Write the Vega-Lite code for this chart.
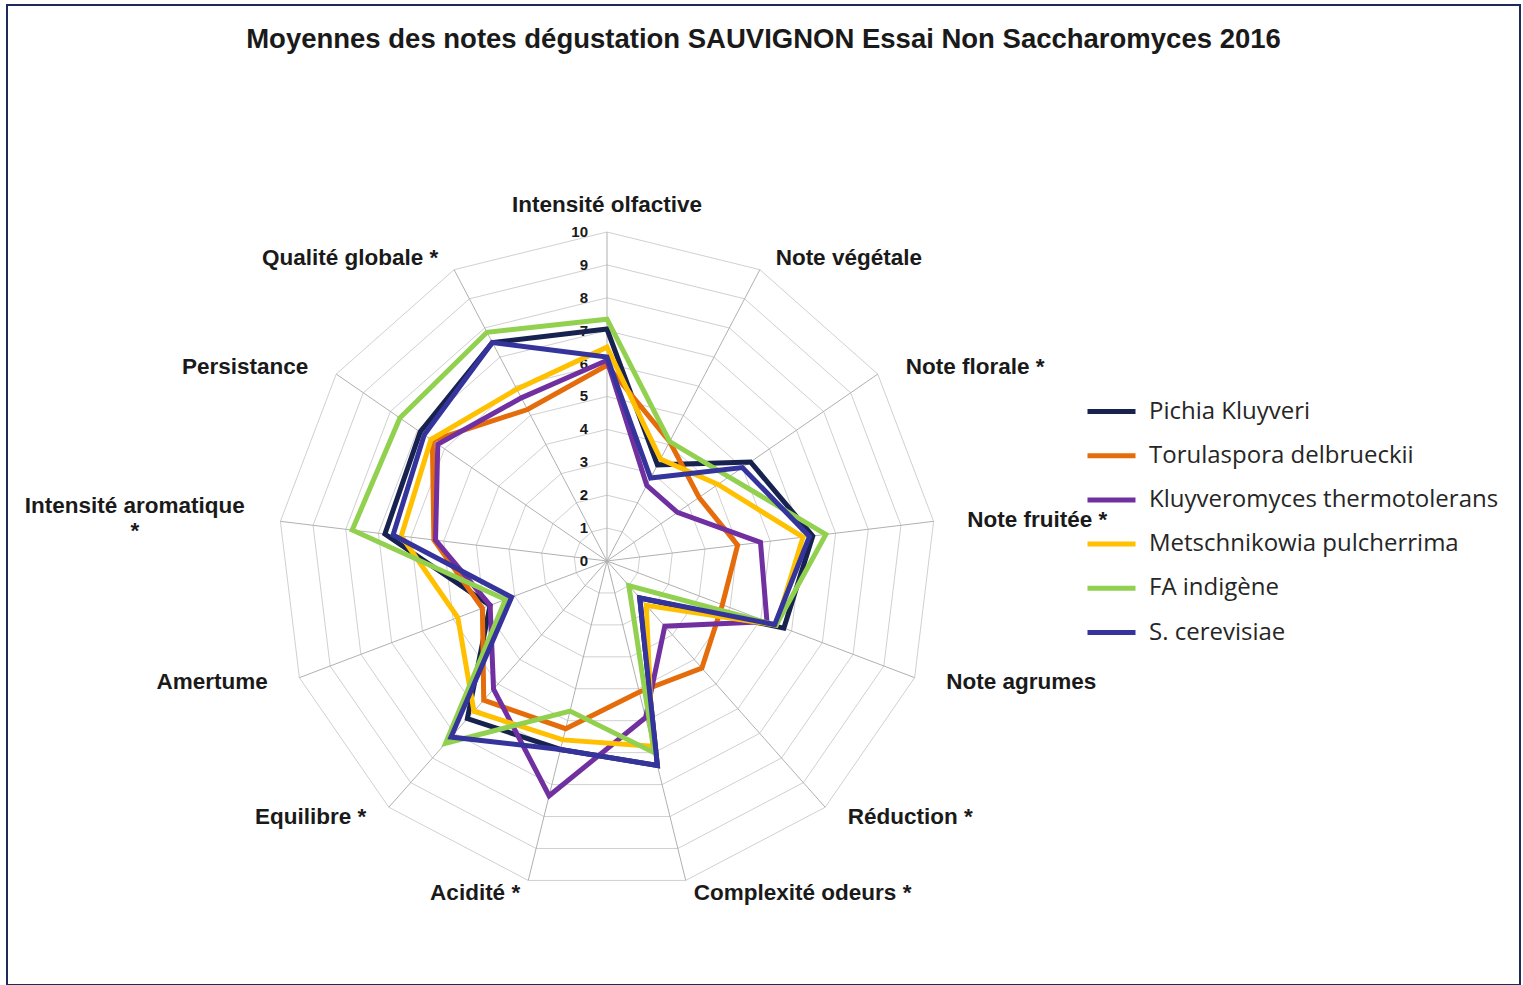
{
  "$schema": "https://vega.github.io/schema/vega-lite/v6.json",
  "autosize": {"type": "none"},
  "width": 1513,
  "height": 980,
  "padding": {"left": 7, "top": 5, "right": 3, "bottom": 0},
  "background": "#ffffff",
  "config": {
    "view": {"stroke": "#1f2a5c", "strokeWidth": 2},
    "text": {"font": "Liberation Sans"}
  },
  "title": {
    "text": "Moyennes des notes dégustation SAUVIGNON Essai Non Saccharomyces  2016",
    "font": "Liberation Sans",
    "fontSize": 27.5,
    "fontWeight": "bold",
    "color": "#1a1a1a",
    "anchor": "middle",
    "frame": "group",
    "baseline": "top",
    "offset": -26,
    "dy": 22
  },
  "datasets": {
    "criteres": [
      {"critere": "Intensité olfactive", "rang": 0, "paliers": [1, 2, 3, 4, 5, 6, 7, 8, 9, 10]},
      {"critere": "Note végétale", "rang": 1, "paliers": [1, 2, 3, 4, 5, 6, 7, 8, 9, 10]},
      {"critere": "Note florale *", "rang": 2, "paliers": [1, 2, 3, 4, 5, 6, 7, 8, 9, 10]},
      {"critere": "Note fruitée *", "rang": 3, "paliers": [1, 2, 3, 4, 5, 6, 7, 8, 9, 10]},
      {"critere": "Note agrumes", "rang": 4, "paliers": [1, 2, 3, 4, 5, 6, 7, 8, 9, 10]},
      {"critere": "Réduction *", "rang": 5, "paliers": [1, 2, 3, 4, 5, 6, 7, 8, 9, 10]},
      {"critere": "Complexité odeurs *", "rang": 6, "paliers": [1, 2, 3, 4, 5, 6, 7, 8, 9, 10]},
      {"critere": "Acidité *", "rang": 7, "paliers": [1, 2, 3, 4, 5, 6, 7, 8, 9, 10]},
      {"critere": "Equilibre *", "rang": 8, "paliers": [1, 2, 3, 4, 5, 6, 7, 8, 9, 10]},
      {"critere": "Amertume", "rang": 9, "paliers": [1, 2, 3, 4, 5, 6, 7, 8, 9, 10]},
      {"critere": "Intensité aromatique\n*", "rang": 10, "paliers": [1, 2, 3, 4, 5, 6, 7, 8, 9, 10]},
      {"critere": "Persistance", "rang": 11, "paliers": [1, 2, 3, 4, 5, 6, 7, 8, 9, 10]},
      {"critere": "Qualité globale *", "rang": 12, "paliers": [1, 2, 3, 4, 5, 6, 7, 8, 9, 10]}
    ],
    "graduations": [
      {"palier": 0}, {"palier": 1}, {"palier": 2}, {"palier": 3}, {"palier": 4}, {"palier": 5},
      {"palier": 6}, {"palier": 7}, {"palier": 8}, {"palier": 9}, {"palier": 10}
    ],
    "notes": [
      {"critere": "Intensité olfactive", "souche": "Pichia Kluyveri", "note": 7.05},
      {"critere": "Intensité olfactive", "souche": "Torulaspora delbrueckii", "note": 5.95},
      {"critere": "Intensité olfactive", "souche": "Kluyveromyces thermotolerans", "note": 6.1},
      {"critere": "Intensité olfactive", "souche": "Metschnikowia pulcherrima", "note": 6.5},
      {"critere": "Intensité olfactive", "souche": "FA indigène", "note": 7.35},
      {"critere": "Intensité olfactive", "souche": "S. cerevisiae", "note": 6.2},
      {"critere": "Note végétale", "souche": "Pichia Kluyveri", "note": 3.3},
      {"critere": "Note végétale", "souche": "Torulaspora delbrueckii", "note": 4.1},
      {"critere": "Note végétale", "souche": "Kluyveromyces thermotolerans", "note": 2.6},
      {"critere": "Note végétale", "souche": "Metschnikowia pulcherrima", "note": 3.5},
      {"critere": "Note végétale", "souche": "FA indigène", "note": 4.1},
      {"critere": "Note végétale", "souche": "S. cerevisiae", "note": 2.85},
      {"critere": "Note florale *", "souche": "Pichia Kluyveri", "note": 5.3},
      {"critere": "Note florale *", "souche": "Torulaspora delbrueckii", "note": 3.4},
      {"critere": "Note florale *", "souche": "Kluyveromyces thermotolerans", "note": 2.6},
      {"critere": "Note florale *", "souche": "Metschnikowia pulcherrima", "note": 4.1},
      {"critere": "Note florale *", "souche": "FA indigène", "note": 4.5},
      {"critere": "Note florale *", "souche": "S. cerevisiae", "note": 5.0},
      {"critere": "Note fruitée *", "souche": "Pichia Kluyveri", "note": 6.3},
      {"critere": "Note fruitée *", "souche": "Torulaspora delbrueckii", "note": 4.0},
      {"critere": "Note fruitée *", "souche": "Kluyveromyces thermotolerans", "note": 4.7},
      {"critere": "Note fruitée *", "souche": "Metschnikowia pulcherrima", "note": 6.0},
      {"critere": "Note fruitée *", "souche": "FA indigène", "note": 6.7},
      {"critere": "Note fruitée *", "souche": "S. cerevisiae", "note": 6.2},
      {"critere": "Note agrumes", "souche": "Pichia Kluyveri", "note": 5.75},
      {"critere": "Note agrumes", "souche": "Torulaspora delbrueckii", "note": 3.75},
      {"critere": "Note agrumes", "souche": "Kluyveromyces thermotolerans", "note": 5.2},
      {"critere": "Note agrumes", "souche": "Metschnikowia pulcherrima", "note": 5.5},
      {"critere": "Note agrumes", "souche": "FA indigène", "note": 5.5},
      {"critere": "Note agrumes", "souche": "S. cerevisiae", "note": 5.45},
      {"critere": "Réduction *", "souche": "Pichia Kluyveri", "note": 1.5},
      {"critere": "Réduction *", "souche": "Torulaspora delbrueckii", "note": 4.35},
      {"critere": "Réduction *", "souche": "Kluyveromyces thermotolerans", "note": 2.65},
      {"critere": "Réduction *", "souche": "Metschnikowia pulcherrima", "note": 1.8},
      {"critere": "Réduction *", "souche": "FA indigène", "note": 1.0},
      {"critere": "Réduction *", "souche": "S. cerevisiae", "note": 1.5},
      {"critere": "Complexité odeurs *", "souche": "Pichia Kluyveri", "note": 6.4},
      {"critere": "Complexité odeurs *", "souche": "Torulaspora delbrueckii", "note": 4.1},
      {"critere": "Complexité odeurs *", "souche": "Kluyveromyces thermotolerans", "note": 4.9},
      {"critere": "Complexité odeurs *", "souche": "Metschnikowia pulcherrima", "note": 5.8},
      {"critere": "Complexité odeurs *", "souche": "FA indigène", "note": 6.0},
      {"critere": "Complexité odeurs *", "souche": "S. cerevisiae", "note": 6.4},
      {"critere": "Acidité *", "souche": "Pichia Kluyveri", "note": 5.9},
      {"critere": "Acidité *", "souche": "Torulaspora delbrueckii", "note": 5.25},
      {"critere": "Acidité *", "souche": "Kluyveromyces thermotolerans", "note": 7.35},
      {"critere": "Acidité *", "souche": "Metschnikowia pulcherrima", "note": 5.6},
      {"critere": "Acidité *", "souche": "FA indigène", "note": 4.7},
      {"critere": "Acidité *", "souche": "S. cerevisiae", "note": 5.9},
      {"critere": "Equilibre *", "souche": "Pichia Kluyveri", "note": 6.4},
      {"critere": "Equilibre *", "souche": "Torulaspora delbrueckii", "note": 5.65},
      {"critere": "Equilibre *", "souche": "Kluyveromyces thermotolerans", "note": 5.2},
      {"critere": "Equilibre *", "souche": "Metschnikowia pulcherrima", "note": 6.1},
      {"critere": "Equilibre *", "souche": "FA indigène", "note": 7.4},
      {"critere": "Equilibre *", "souche": "S. cerevisiae", "note": 7.15},
      {"critere": "Amertume", "souche": "Pichia Kluyveri", "note": 3.8},
      {"critere": "Amertume", "souche": "Torulaspora delbrueckii", "note": 4.05},
      {"critere": "Amertume", "souche": "Kluyveromyces thermotolerans", "note": 3.8},
      {"critere": "Amertume", "souche": "Metschnikowia pulcherrima", "note": 4.85},
      {"critere": "Amertume", "souche": "FA indigène", "note": 3.3},
      {"critere": "Amertume", "souche": "S. cerevisiae", "note": 3.1},
      {"critere": "Intensité aromatique\n*", "souche": "Pichia Kluyveri", "note": 6.8},
      {"critere": "Intensité aromatique\n*", "souche": "Torulaspora delbrueckii", "note": 5.3},
      {"critere": "Intensité aromatique\n*", "souche": "Kluyveromyces thermotolerans", "note": 5.25},
      {"critere": "Intensité aromatique\n*", "souche": "Metschnikowia pulcherrima", "note": 6.3},
      {"critere": "Intensité aromatique\n*", "souche": "FA indigène", "note": 7.8},
      {"critere": "Intensité aromatique\n*", "souche": "S. cerevisiae", "note": 6.55},
      {"critere": "Persistance", "souche": "Pichia Kluyveri", "note": 6.9},
      {"critere": "Persistance", "souche": "Torulaspora delbrueckii", "note": 6.45},
      {"critere": "Persistance", "souche": "Kluyveromyces thermotolerans", "note": 6.25},
      {"critere": "Persistance", "souche": "Metschnikowia pulcherrima", "note": 6.5},
      {"critere": "Persistance", "souche": "FA indigène", "note": 7.65},
      {"critere": "Persistance", "souche": "S. cerevisiae", "note": 6.75},
      {"critere": "Qualité globale *", "souche": "Pichia Kluyveri", "note": 7.5},
      {"critere": "Qualité globale *", "souche": "Torulaspora delbrueckii", "note": 5.2},
      {"critere": "Qualité globale *", "souche": "Kluyveromyces thermotolerans", "note": 5.6},
      {"critere": "Qualité globale *", "souche": "Metschnikowia pulcherrima", "note": 5.9},
      {"critere": "Qualité globale *", "souche": "FA indigène", "note": 7.85},
      {"critere": "Qualité globale *", "souche": "S. cerevisiae", "note": 7.5}
    ]
  },
  "layer": [
    {
      "data": {"name": "criteres"},
      "transform": [
        {"flatten": ["paliers"], "as": ["palier"]},
        {"calculate": "datum.rang * 2 * PI / 13", "as": "a"},
        {"calculate": "datum.palier * sin(datum.a)", "as": "x"},
        {"calculate": "datum.palier * cos(datum.a)", "as": "y"}
      ],
      "mark": {"type": "line", "interpolate": "linear-closed", "stroke": "#d0d0d0", "strokeWidth": 1},
      "encoding": {
        "x": {"field": "x", "type": "quantitative", "scale": {"domain": [-18.237, 27.751], "nice": false, "zero": false}, "axis": null},
        "y": {"field": "y", "type": "quantitative", "scale": {"domain": [-12.888, 16.9], "nice": false, "zero": false}, "axis": null},
        "detail": {"field": "palier", "type": "nominal"},
        "order": {"field": "rang", "type": "quantitative"}
      }
    },
    {
      "data": {"name": "criteres"},
      "transform": [
        {"calculate": "datum.rang * 2 * PI / 13", "as": "a"},
        {"calculate": "10 * sin(datum.a)", "as": "x"},
        {"calculate": "10 * cos(datum.a)", "as": "y"}
      ],
      "mark": {"type": "rule", "stroke": "#b0b0b0", "strokeWidth": 1},
      "encoding": {
        "x": {"field": "x", "type": "quantitative"},
        "y": {"field": "y", "type": "quantitative"},
        "x2": {"datum": 0},
        "y2": {"datum": 0}
      }
    },
    {
      "data": {"name": "graduations"},
      "mark": {"type": "text", "align": "right", "baseline": "middle", "dx": -19, "fontSize": 15, "fontWeight": "bold", "color": "#1a1a1a"},
      "encoding": {
        "x": {"datum": 0},
        "y": {"field": "palier", "type": "quantitative"},
        "text": {"field": "palier", "type": "quantitative"}
      }
    },
    {
      "data": {"name": "notes"},
      "transform": [
        {"lookup": "critere", "from": {"data": {"name": "criteres"}, "key": "critere", "fields": ["rang"]}},
        {"calculate": "datum.rang * 2 * PI / 13", "as": "a"},
        {"calculate": "datum.note * sin(datum.a)", "as": "x"},
        {"calculate": "datum.note * cos(datum.a)", "as": "y"}
      ],
      "mark": {"type": "line", "interpolate": "linear-closed", "strokeWidth": 5},
      "encoding": {
        "x": {"field": "x", "type": "quantitative"},
        "y": {"field": "y", "type": "quantitative"},
        "order": {"field": "rang", "type": "quantitative"},
        "color": {
          "field": "souche",
          "type": "nominal",
          "scale": {
            "domain": ["Pichia Kluyveri", "Torulaspora delbrueckii", "Kluyveromyces thermotolerans", "Metschnikowia pulcherrima", "FA indigène", "S. cerevisiae"],
            "range": ["#17224f", "#e46c0a", "#7030a0", "#ffc000", "#92d050", "#34349c"]
          },
          "legend": {
            "title": null,
            "orient": "none",
            "legendX": 1078,
            "legendY": 380,
            "padding": 0,
            "symbolType": "stroke",
            "symbolSize": 2304,
            "symbolStrokeWidth": 5,
            "rowPadding": 5.2,
            "labelOffset": 11,
            "labelFont": "Open Sans",
            "labelFontSize": 24,
            "labelColor": "#262626",
            "labelLimit": 500
          }
        }
      }
    },
    {
      "data": {"name": "criteres"},
      "transform": [
        {"filter": "datum.rang == 0"},
        {"calculate": "0", "as": "x"},
        {"calculate": "10.4", "as": "y"}
      ],
      "mark": {"type": "text", "align": "center", "baseline": "middle", "dy": -14, "fontSize": 22.5, "fontWeight": "bold", "color": "#1a1a1a"},
      "encoding": {
        "x": {"field": "x", "type": "quantitative"},
        "y": {"field": "y", "type": "quantitative"},
        "text": {"field": "critere"}
      }
    },
    {
      "data": {"name": "criteres"},
      "transform": [
        {"filter": "datum.rang >= 1 && datum.rang <= 6"},
        {"calculate": "datum.rang * 2 * PI / 13", "as": "a"},
        {"calculate": "11.03 * sin(datum.a)", "as": "x"},
        {"calculate": "10.4 * cos(datum.a)", "as": "y"}
      ],
      "mark": {"type": "text", "align": "left", "baseline": "middle", "fontSize": 22.5, "fontWeight": "bold", "color": "#1a1a1a"},
      "encoding": {
        "x": {"field": "x", "type": "quantitative"},
        "y": {"field": "y", "type": "quantitative"},
        "text": {"field": "critere"}
      }
    },
    {
      "data": {"name": "criteres"},
      "transform": [
        {"filter": "datum.rang >= 7 && datum.rang != 10"},
        {"calculate": "datum.rang * 2 * PI / 13", "as": "a"},
        {"calculate": "11.03 * sin(datum.a)", "as": "x"},
        {"calculate": "10.4 * cos(datum.a)", "as": "y"}
      ],
      "mark": {"type": "text", "align": "right", "baseline": "middle", "fontSize": 22.5, "fontWeight": "bold", "color": "#1a1a1a"},
      "encoding": {
        "x": {"field": "x", "type": "quantitative"},
        "y": {"field": "y", "type": "quantitative"},
        "text": {"field": "critere"}
      }
    },
    {
      "data": {"name": "criteres"},
      "transform": [
        {"filter": "datum.rang == 10"},
        {"calculate": "datum.rang * 2 * PI / 13", "as": "a"},
        {"calculate": "11.03 * sin(datum.a)", "as": "x"},
        {"calculate": "10.4 * cos(datum.a)", "as": "y"}
      ],
      "mark": {"type": "text", "align": "center", "baseline": "middle", "dx": -112, "dy": -14, "lineBreak": "\n", "lineHeight": 25, "fontSize": 22.5, "fontWeight": "bold", "color": "#1a1a1a"},
      "encoding": {
        "x": {"field": "x", "type": "quantitative"},
        "y": {"field": "y", "type": "quantitative"},
        "text": {"field": "critere"}
      }
    }
  ]
}
